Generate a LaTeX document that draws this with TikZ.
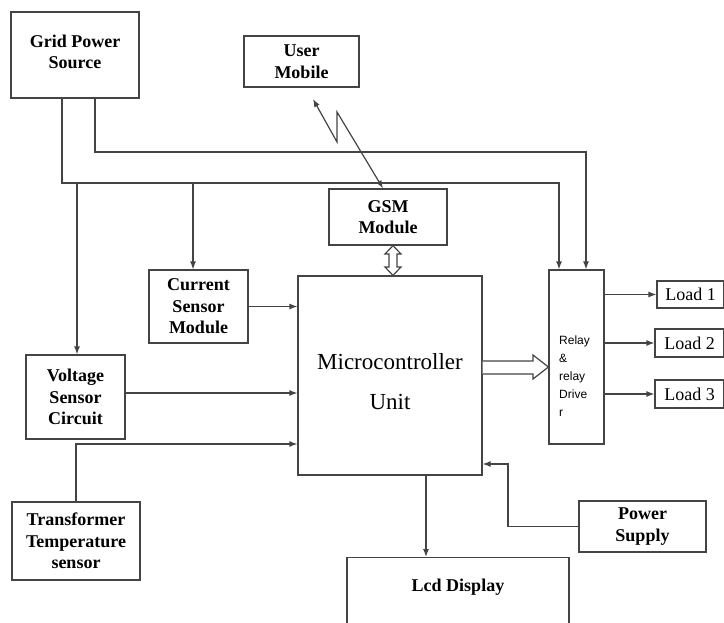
\documentclass[tikz,border=0pt]{standalone}
\usepackage{fontspec}
\setmainfont{Liberation Serif}
\newfontfamily\relayfont{Liberation Sans}
\usetikzlibrary{arrows.meta}
\definecolor{linegray}{HTML}{444444}
\begin{document}
\begin{tikzpicture}[x=1pt,y=-1pt,
  box/.style={draw=linegray, line width=1.2pt, inner sep=0pt, align=center,
    font=\bfseries\fontsize{18}{21.5}\selectfont, text=black},
  loadbox/.style={box, font=\fontsize{18}{21}\selectfont},
  conn/.style={draw=linegray, line width=1.2pt},
  arr/.style={conn, -{Latex[length=8pt,width=6pt]}},
  dblarr/.style={conn, {Latex[length=8pt,width=6pt]}-{Latex[length=8pt,width=6pt]}},
  hollow/.style={draw=linegray, line width=1.2pt, fill=white, line join=miter}]
\useasboundingbox (0,0) rectangle (724,623);

% boxes
\node[box, minimum width=128pt, minimum height=86pt] (grid) at (75,55) {};
\node[font=\bfseries\fontsize{18}{21.5}\selectfont, align=center, inner sep=0pt] (gridtxt) at (75,52) {Grid Power\\Source};
\node[box, minimum width=115pt, minimum height=51pt] (user) at (301.5,61.5) {User\\Mobile};
\node[box, minimum width=118pt, minimum height=56pt] (gsm) at (388,217) {GSM\\Module};
\node[box, minimum width=99pt, minimum height=73pt] (cur) at (198.5,306.5) {Current\\Sensor\\Module};
\node[box, minimum width=99pt, minimum height=84pt] (volt) at (75.5,397) {Voltage\\Sensor\\Circuit};
\node[box, minimum width=184pt, minimum height=199pt] (mcu) at (390,375.5) {};
\node[align=center, font=\fontsize{23}{40}\selectfont, inner sep=0pt] (mcutxt) at (390,382) {Microcontroller\\Unit};
\node[box, minimum width=55pt, minimum height=174pt] (relay) at (576.5,357) {};
\node[font=\relayfont\fontsize{12}{18}\selectfont, align=left, anchor=north west, inner sep=0pt] (relaytxt) at (559,336) {Relay\\\&\\relay\\Drive\\r};
\node[loadbox, minimum width=67pt, minimum height=27pt] (load1) at (690.5,294.5) {Load 1};
\node[loadbox, minimum width=69pt, minimum height=28pt] (load2) at (689.5,343) {Load 2};
\node[loadbox, minimum width=69pt, minimum height=28pt] (load3) at (689.5,394) {Load 3};
\node[box, minimum width=128pt, minimum height=78pt] (trans) at (76,541) {Transformer\\Temperature\\sensor};
\node[box, minimum width=127pt, minimum height=51pt] (ps) at (642.5,526.5) {Power\\Supply};
\node[box, minimum width=222pt, minimum height=90pt, anchor=north] (lcd) at (458,557) {};
\node[font=\bfseries\fontsize{18}{21.5}\selectfont, inner sep=0pt] (lcdtxt) at (458,587) {Lcd Display};

% grid power lines
\draw[arr] (62,0 |- grid.south) -- (62,183) -- (559,183) -- (559,0 |- relay.north);
\draw[arr] (95,0 |- grid.south) -- (95,152) -- (586,152) -- (586,0 |- relay.north);
\draw[arr] (77,183) -- (77,0 |- volt.north);
\draw[arr] (193,183) -- (193,0 |- cur.north);

% sensors to MCU
\draw[arr] (cur.east) -- (cur.east -| mcu.west);
\draw[arr] (volt.east |- 0,393) -- (mcu.west |- 0,393);
\draw[arr] (76,0 |- trans.north) -- (76,444) -- (mcu.west |- 0,444);

% MCU to LCD
\draw[arr] (426,0 |- mcu.south) -- (426,0 |- lcd.north);

% power supply
\draw[arr] (ps.west) -- (508,0 |- ps.west) -- (508,464) -- (mcu.east |- 0,464);

% relay to loads
\draw[arr] (relay.east |- load1.west) -- (load1.west);
\draw[arr] (relay.east |- load2.west) -- (load2.west);
\draw[arr] (relay.east |- load3.west) -- (load3.west);

% wireless link
\coordinate (ltip) at (313,99);
\draw[dblarr] (ltip) -- (337,142) -- (337,112) -- (383,0 |- gsm.north);

% hollow arrow MCU -> relay
\draw[hollow] (mcu.east |- 0,361) -- (533,361) -- (533,355) -- (relay.west |- 0,367)
  -- (533,379) -- (533,374) -- (mcu.east |- 0,374);

% hollow double arrow GSM <-> MCU
\draw[hollow] (393,0 |- gsm.south) -- (401,254) -- (397,254) -- (397,267) -- (401,267)
  -- (393,0 |- mcu.north) -- (385,267) -- (389,267) -- (389,254) -- (385,254) -- cycle;
\end{tikzpicture}
\end{document}
